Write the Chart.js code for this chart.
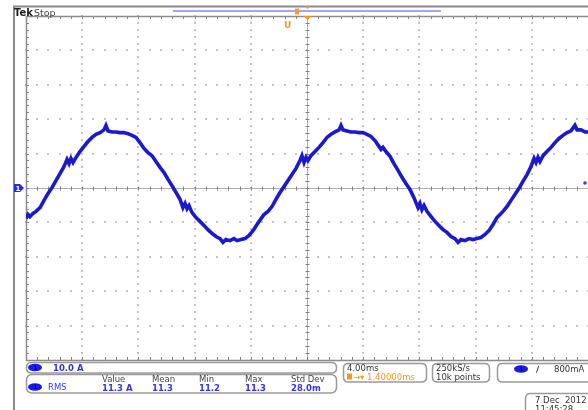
<!DOCTYPE html>
<html>
<head>
<meta charset="utf-8">
<script src="https://cdn.jsdelivr.net/npm/chart.js@4.4.1/dist/chart.umd.min.js"></script>
<style>
html,body{margin:0;padding:0;background:#fff;}
#c{display:block;}
</style>
</head>
<body>
<canvas id="c" width="588" height="410"></canvas>
<script>
// ---- data (time in ms, current in A) ----
const timeMs = [0.00,0.14,0.28,0.50,0.71,1.00,1.28,1.57,1.85,2.14,2.42,2.70,2.92,3.06,3.20,3.35,3.56,3.84,4.13,4.41,4.70,4.98,5.27,5.55,5.69,5.84,6.12,6.41,6.69,6.97,7.26,7.54,7.83,8.11,8.40,8.54,8.68,8.97,9.25,9.54,9.82,10.11,10.39,10.68,10.96,11.17,11.32,11.46,11.60,11.81,12.10,12.38,12.67,12.95,13.24,13.52,13.81,14.02,14.23,14.52,14.80,15.02,15.30,15.59,15.87,16.16,16.44,16.73,16.94,17.22,17.51,17.79,18.08,18.36,18.65,18.93,19.22,19.50,19.64,19.79,19.93,20.07,20.28,20.57,20.85,21.14,21.42,21.71,21.99,22.28,22.42,22.56,22.85,23.13,23.42,23.70,23.98,24.27,24.55,24.84,25.12,25.27,25.41,25.62,25.91,26.19,26.48,26.76,27.04,27.33,27.61,27.90,28.04,28.18,28.33,28.54,28.83,29.11,29.39,29.68,29.96,30.25,30.53,30.75,30.96,31.24,31.53,31.81,32.10,32.38,32.67,32.95,33.24,33.52,33.74,33.95,34.23,34.52,34.80,35.09,35.37,35.66,35.94,36.16,36.30,36.44,36.58,36.80,37.08,37.37,37.65,37.94,38.22,38.51,38.79,39.07,39.22,39.50,39.79,40.00];
const currentA = [-8.9,-7.7,-8.3,-7.4,-6.8,-5.7,-3.6,-1.6,0.1,2.2,4.2,6.2,8.3,7.1,8.6,7.4,8.9,10.6,12.1,13.5,14.7,15.6,16.1,16.9,18.2,16.6,16.3,16.3,16.1,16.1,15.8,15.3,14.7,13.2,11.5,10.9,10.3,9.4,7.7,6.0,4.5,2.5,0.7,-1.3,-3.3,-5.7,-4.5,-6.0,-5.1,-7.1,-8.6,-9.7,-10.9,-12.1,-13.2,-14.1,-14.7,-15.8,-15.0,-15.3,-14.7,-15.3,-15.0,-14.7,-13.8,-12.4,-10.6,-8.9,-7.7,-6.8,-5.4,-3.3,-1.3,0.4,2.2,3.9,5.7,8.0,9.4,7.4,8.9,8.0,9.4,10.6,11.8,13.2,14.7,15.6,16.3,16.9,18.2,16.9,16.6,16.3,16.3,16.1,16.1,15.6,15.0,13.8,12.1,11.2,11.8,10.6,9.2,7.1,5.1,3.1,1.3,-0.4,-2.8,-5.7,-4.5,-6.3,-5.1,-6.8,-8.3,-9.7,-10.9,-12.1,-12.9,-14.1,-14.7,-15.8,-15.0,-15.3,-14.7,-15.0,-14.7,-14.4,-13.5,-12.4,-10.6,-8.6,-7.7,-6.8,-5.4,-3.6,-1.9,-0.1,1.9,3.9,6.2,8.6,7.4,8.9,7.7,9.4,10.6,11.8,13.2,14.4,15.3,16.1,16.6,18.2,16.9,16.9,16.3,16.3];
const xTicks = [0,4,8,12,16,20,24,28,32,36,40];        // 4.00 ms/div
const yTicks = [-50,-40,-30,-20,-10,0,10,20,30,40,50];  // 10.0 A/div
const xCenter = 20, yCenter = 0;
const measLabels = ['Value','Mean','Min','Max','Std Dev'];
const measValues = ['11.3 A','11.3','11.2','11.3','28.0m'];

const points = timeMs.map((t,i)=>({x:t,y:currentA[i]}));

const graticule = {
  id:'graticule',
  beforeDatasetsDraw(chart){
    const ctx = chart.ctx, xs = chart.scales.x, ys = chart.scales.y;
    const ca = chart.chartArea;
    ctx.save();
    const xMinor = (xTicks[1]-xTicks[0])/5, yMinor = (yTicks[1]-yTicks[0])/5;
    // dotted lines
    ctx.fillStyle = '#c4c4c4';
    xTicks.forEach(t=>{
      if (t===xCenter || t===xTicks[0] || t===xTicks[xTicks.length-1]) return;
      const px = Math.round(xs.getPixelForValue(t));
      for (let v=yTicks[0]; v<=yTicks[yTicks.length-1]+1e-9; v+=yMinor){
        const py = Math.round(ys.getPixelForValue(v));
        ctx.fillRect(px-1, py-1, 2, 2);
      }
    });
    yTicks.forEach(v=>{
      if (v===yCenter || v===yTicks[0] || v===yTicks[yTicks.length-1]) return;
      const py = Math.round(ys.getPixelForValue(v));
      for (let t=xTicks[0]; t<=xTicks[xTicks.length-1]+1e-9; t+=xMinor){
        const px = Math.round(xs.getPixelForValue(t));
        ctx.fillRect(px-1, py-1, 2, 2);
      }
    });
    // center cross lines
    const cx = Math.round(xs.getPixelForValue(xCenter))+0.5;
    const cy = Math.round(ys.getPixelForValue(yCenter))+0.5;
    ctx.strokeStyle = '#b0b0b0'; ctx.lineWidth = 1;
    ctx.beginPath();
    ctx.moveTo(ca.left, cy); ctx.lineTo(ca.right, cy);
    ctx.moveTo(cx, ca.top); ctx.lineTo(cx, ca.bottom);
    ctx.stroke();
    ctx.strokeStyle = '#808080';
    ctx.beginPath();
    for (let t=xTicks[0]; t<=xTicks[xTicks.length-1]+1e-9; t+=xMinor){
      const px = Math.round(xs.getPixelForValue(t))+0.5;
      ctx.moveTo(px, cy-2); ctx.lineTo(px, cy+2);
      ctx.moveTo(px, ca.top); ctx.lineTo(px, ca.top+3);
      ctx.moveTo(px, ca.bottom); ctx.lineTo(px, ca.bottom-3);
    }
    for (let v=yTicks[0]; v<=yTicks[yTicks.length-1]+1e-9; v+=yMinor){
      const py = Math.round(ys.getPixelForValue(v))+0.5;
      ctx.moveTo(cx-2, py); ctx.lineTo(cx+2, py);
      ctx.moveTo(ca.left, py); ctx.lineTo(ca.left+3, py);
    }
    ctx.stroke();
    // border
    ctx.strokeStyle = '#8c8c8c'; ctx.lineWidth = 1.5;
    ctx.beginPath();
    ctx.moveTo(ca.left+0.5, ca.top+0.5); ctx.lineTo(ca.right, ca.top+0.5);
    ctx.moveTo(ca.left+0.5, ca.top); ctx.lineTo(ca.left+0.5, ca.bottom+0.5);
    ctx.lineTo(ca.right, ca.bottom+0.5);
    ctx.stroke();
    ctx.restore();
  },
  afterDraw(chart){
    const ctx = chart.ctx, xs = chart.scales.x, ys = chart.scales.y;
    ctx.save();
    // outer frame
    ctx.strokeStyle = '#8a8a8a'; ctx.lineWidth = 2;
    ctx.beginPath();
    ctx.moveTo(14, 410); ctx.lineTo(14, 6.5); ctx.lineTo(588, 6.5);
    ctx.stroke();
    // top bar text
    ctx.fillStyle = '#222'; ctx.textBaseline = 'alphabetic';
    ctx.font = 'bold 10px "DejaVu Sans"';
    ctx.fillText('Tek', 14, 15.5);
    ctx.font = '9.5px "DejaVu Sans"';
    ctx.fillStyle = '#444';
    ctx.fillText('Stop', 34, 15.5);
    // record view bar
    ctx.strokeStyle = '#a6a6f6'; ctx.lineWidth = 2;
    ctx.beginPath(); ctx.moveTo(173, 11); ctx.lineTo(441, 11); ctx.stroke();
    ctx.fillStyle = '#f0a030';
    ctx.fillRect(295, 8.5, 4, 6);
    // trigger markers
    const tx = Math.round(xs.getPixelForValue(xCenter))+0.5;
    ctx.fillStyle = '#f29a1a';
    ctx.beginPath(); ctx.moveTo(tx-3, 6); ctx.lineTo(tx+3, 6); ctx.lineTo(tx, 9); ctx.closePath(); ctx.fill();
    ctx.beginPath(); ctx.moveTo(tx-4, 16); ctx.lineTo(tx+4, 16); ctx.lineTo(tx, 20); ctx.closePath(); ctx.fill();
    ctx.font = 'bold 9px "DejaVu Sans"';
    ctx.fillStyle = '#f29a1a';
    ctx.fillText('U', 284, 28);
    // ch1 ground marker (left)
    const gy = Math.round(ys.getPixelForValue(yCenter));
    ctx.fillStyle = '#2a2ae0';
    ctx.beginPath();
    ctx.moveTo(14, gy-4); ctx.lineTo(20, gy-4); ctx.lineTo(24, gy); ctx.lineTo(20, gy+4); ctx.lineTo(14, gy+4); ctx.closePath(); ctx.fill();
    ctx.fillStyle = '#fff'; ctx.font = 'bold 7px "DejaVu Sans"';
    ctx.fillText('1', 15.5, gy+3);
    // right trigger level dot
    ctx.fillStyle = '#3a3aee';
    ctx.beginPath(); ctx.arc(585, gy-5, 1.8, 0, Math.PI*2); ctx.fill();

    function rbox(x,y,w,h,r){
      ctx.beginPath();
      ctx.moveTo(x+r,y); ctx.lineTo(x+w-r,y); ctx.quadraticCurveTo(x+w,y,x+w,y+r);
      ctx.lineTo(x+w,y+h-r); ctx.quadraticCurveTo(x+w,y+h,x+w-r,y+h);
      ctx.lineTo(x+r,y+h); ctx.quadraticCurveTo(x,y+h,x,y+h-r);
      ctx.lineTo(x,y+r); ctx.quadraticCurveTo(x,y,x+r,y); ctx.closePath();
      ctx.fillStyle='#fff'; ctx.fill();
      ctx.strokeStyle='#9a9a9a'; ctx.lineWidth=1.5; ctx.stroke();
    }
    function oval(cx,cy){
      ctx.fillStyle='#1a1af0';
      ctx.beginPath(); ctx.ellipse(cx,cy,7,3.8,0,0,Math.PI*2); ctx.fill();
      ctx.fillStyle='#000040'; ctx.font='bold 6px "DejaVu Sans"';
      ctx.fillText('1', cx-1.8, cy+2.2);
    }
    // channel box
    rbox(26.5, 362.5, 310, 10.5, 5);
    oval(35, 367.5);
    ctx.fillStyle='#3535e6'; ctx.font='bold 8.5px "DejaVu Sans"';
    ctx.fillText('10.0 A', 53, 371);
    // measurement box
    rbox(26.5, 374.5, 310, 18.5, 6);
    oval(35, 387);
    ctx.fillStyle='#3535e6'; ctx.font='8.5px "DejaVu Sans"';
    ctx.fillText('RMS', 48, 390);
    const mx = [102,152,199,245,291];
    ctx.font='8.5px "DejaVu Sans"';
    measLabels.forEach((s,i)=>{ ctx.fillStyle='#444'; ctx.fillText(s, mx[i], 382); });
    ctx.font='bold 8.5px "DejaVu Sans"';
    measValues.forEach((s,i)=>{ ctx.fillStyle='#3535e6'; ctx.fillText(s, mx[i], 391); });
    // timebase box
    rbox(343.5, 363.5, 83, 18.5, 5);
    ctx.fillStyle='#333'; ctx.font='8.5px "DejaVu Sans"';
    ctx.fillText('4.00ms', 347, 371);
    ctx.fillStyle='#f29a1a';
    ctx.fillRect(347, 373.5, 5, 6);
    ctx.font='8.5px "DejaVu Sans"';
    ctx.fillText('\u2192\u25BE', 353, 380);
    ctx.fillText('1.40000ms', 367, 380);
    // sample box
    rbox(432.5, 363.5, 57, 18.5, 5);
    ctx.fillStyle='#333'; ctx.font='8.5px "DejaVu Sans"';
    ctx.fillText('250kS/s', 436, 371);
    ctx.fillText('10k points', 436, 380);
    // trigger box
    rbox(497.5, 363.5, 100, 18.5, 5);
    oval(521, 369);
    ctx.fillStyle='#333'; ctx.font='bold 8.5px "DejaVu Sans"';
    ctx.fillText('\u2215', 536, 372);
    ctx.font='8.5px "DejaVu Sans"';
    ctx.fillText('800mA', 554, 372);
    // date box
    rbox(525.5, 393.5, 80, 25, 5);
    ctx.fillStyle='#333'; ctx.font='8.5px "DejaVu Sans"';
    ctx.fillText('7 Dec  2012', 535, 403);
    ctx.fillText('11:45:28', 535, 412);
    ctx.restore();
  }
};

new Chart(document.getElementById('c'), {
  type:'line',
  data:{datasets:[{
    data:points,
    borderColor:'#1a1acc',
    borderWidth:3.6,
    pointRadius:0,
    tension:0,
    fill:false
  }]},
  options:{
    responsive:false,
    animation:false,
    devicePixelRatio:1,
    layout:{padding:{left:26,top:16,right:0,bottom:50}},
    plugins:{legend:{display:false},tooltip:{enabled:false},title:{display:false}},
    scales:{
      x:{type:'linear',min:xTicks[0],max:xTicks[xTicks.length-1],display:false},
      y:{type:'linear',min:yTicks[0],max:yTicks[yTicks.length-1],display:false}
    }
  },
  plugins:[graticule]
});
</script>
</body>
</html>
